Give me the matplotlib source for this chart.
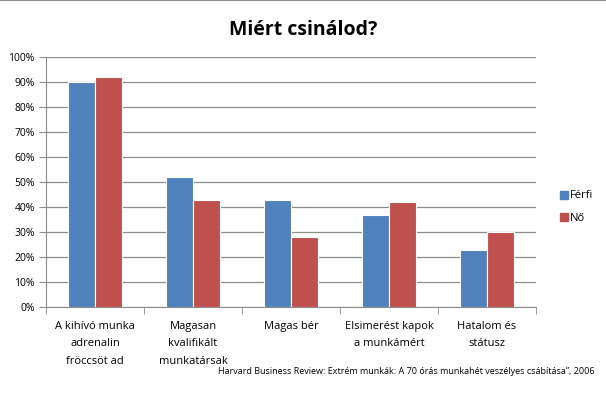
import matplotlib
matplotlib.use("Agg")
import matplotlib.pyplot as plt
import numpy as np
from matplotlib.lines import Line2D

plt.rcParams["font.family"] = ["Open Sans", "DejaVu Sans"]

categories = ["A kihívó munka\nadrenalin\nfröccsöt ad", "Magasan\nkvalifikált\nmunkatársak",
              "Magas bér", "Elsimerést kapok\na munkámért", "Hatalom és\nstátusz"]
ferfi = [90, 52, 43, 37, 23]
no = [92, 43, 28, 42, 30]
series_names = ["Férfi", "Nő"]
colors = ["#4F81BD", "#C0504D"]

fig = plt.figure(figsize=(6.06, 3.94), dpi=100)
ax = fig.add_axes([46/606, 1-307/394, 490/606, 250/394])

x = np.arange(len(categories))
w = 0.275
ax.bar(x - w/2, ferfi, w, color=colors[0], edgecolor="white", linewidth=0.8, label=series_names[0], zorder=3)
ax.bar(x + w/2, no, w, color=colors[1], edgecolor="white", linewidth=0.8, label=series_names[1], zorder=3)

ax.set_xlim(-0.5, len(categories)-0.5)
ax.set_ylim(0, 100)
ax.set_yticks(range(0, 101, 10))
ax.set_yticklabels([f"{v}%" for v in range(0, 101, 10)], fontsize=7.5)
ax.yaxis.grid(True, color="#8c8c8c", lw=0.9, zorder=0)
ax.set_axisbelow(True)

ax.set_xticks(x)
ax.set_xticklabels(categories, fontsize=8, linespacing=1.8, va="top")
ax.tick_params(axis="x", length=0, pad=10)
ax.set_xticks(np.arange(-0.5, len(categories)), minor=True)
ax.tick_params(axis="x", which="minor", length=5, color="#8c8c8c")
ax.tick_params(axis="y", length=5, color="#8c8c8c", pad=3)

for s in ["top", "right"]:
    ax.spines[s].set_visible(False)
for s in ["left", "bottom"]:
    ax.spines[s].set_color("#8c8c8c")

handles = [Line2D([], [], marker="s", ls="", color=c, markersize=5.5) for c in colors]
fig.legend(handles, series_names, loc="center left", bbox_to_anchor=(548/606, 1-207/394),
           frameon=False, fontsize=8, handletextpad=0.1, labelspacing=1.0, handlelength=1)

fig.text(0.5, 1-30/394, "Miért csinálod?", ha="center", va="center", fontsize=14, fontweight="bold")
fig.text(595/606, 1-372/394, "Harvard Business Review: Extrém munkák: A 70 órás munkahét veszélyes csábítása\u201d, 2006",
         ha="right", va="center", fontsize=6.5)
fig.add_artist(Line2D([0, 1], [0.999, 0.999], color="#8c8c8c", lw=1.5, transform=fig.transFigure))

plt.savefig("out.png", dpi=100)
